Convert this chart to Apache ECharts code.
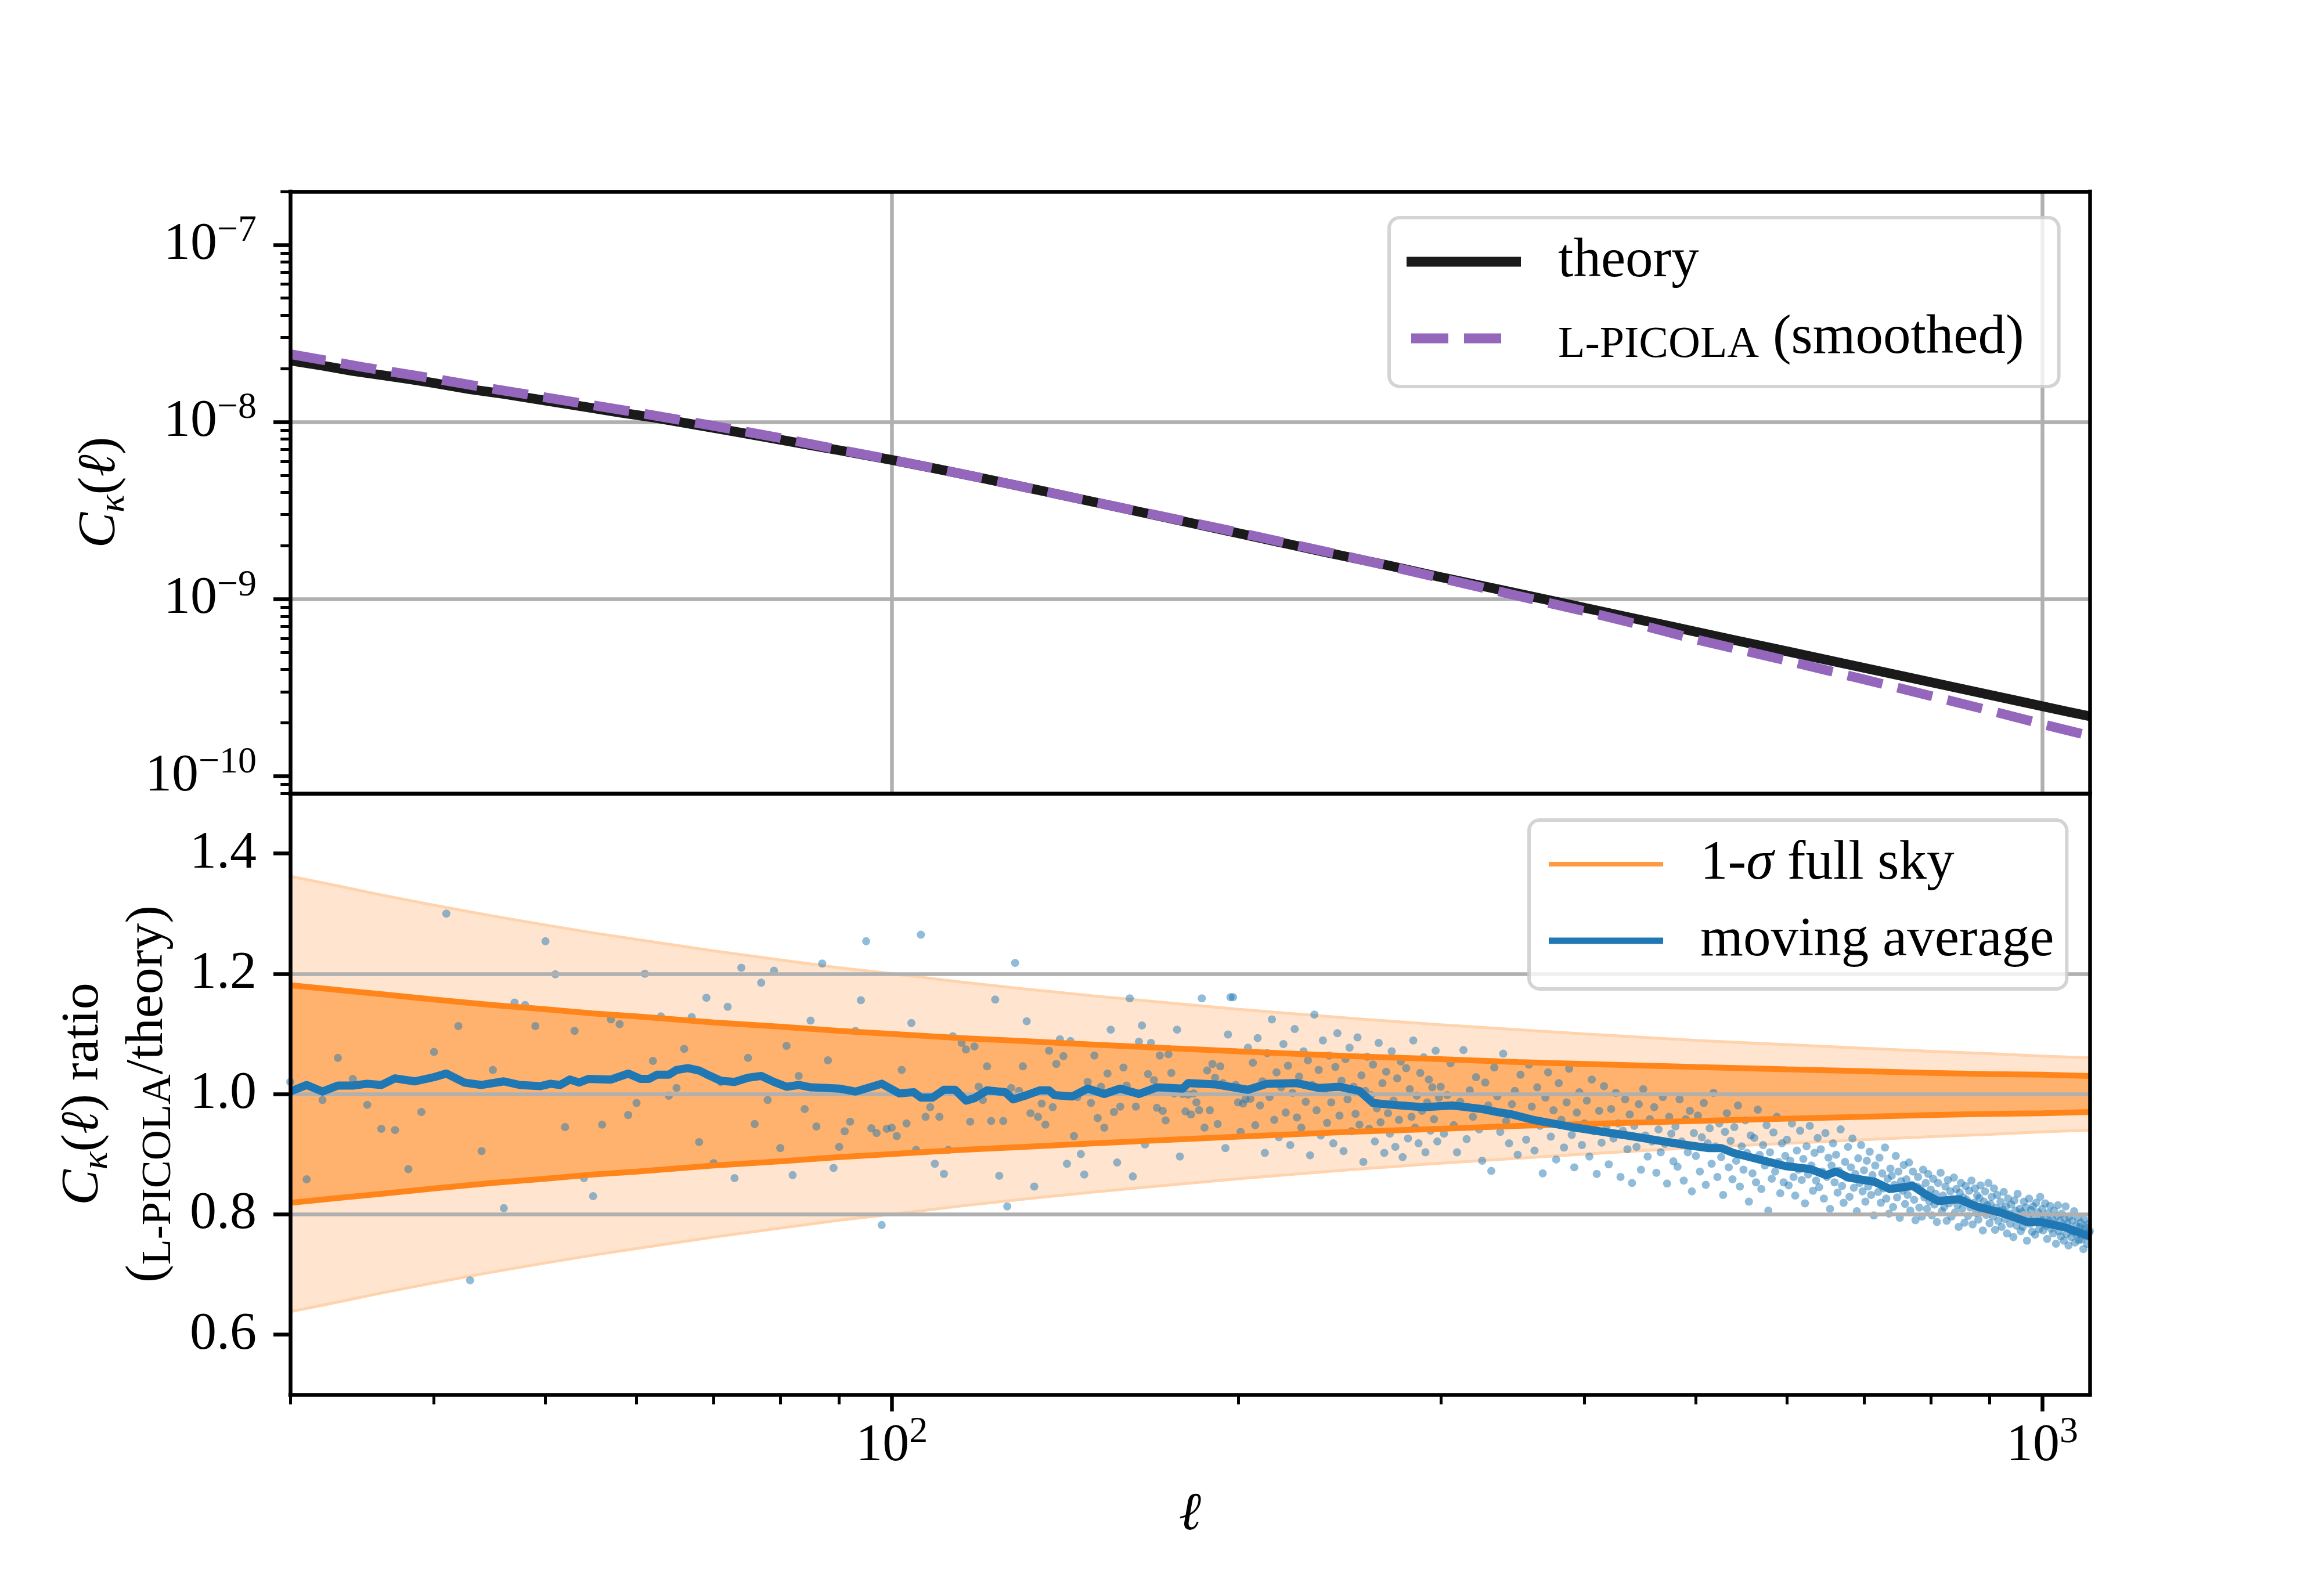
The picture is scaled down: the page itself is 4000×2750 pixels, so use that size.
<!DOCTYPE html>
<html><head><meta charset="utf-8">
<script src="https://cdn.jsdelivr.net/npm/echarts@6.0.0/dist/echarts.min.js"></script>
<style>html,body{margin:0;padding:0;background:#fff}#c{width:4000px;height:2750px}</style>
</head><body><div id="c"></div>
<script>
// ---------------- data ----------------
const theoryEll = [30,32,34,36,38,40,43,46,50,54,58,62,67,72,78,84,90,100,110,120,135,150,170,190,210,240,270,300,340,380,430,480,540,600,680,760,850,950,1050,1100];
const theoryCl = [2.22e-8,2.08e-8,1.94e-8,1.84e-8,1.75e-8,1.66e-8,1.53e-8,1.44e-8,1.32e-8,1.22e-8,1.13e-8,1.06e-8,9.73e-9,8.97e-9,8.18e-9,7.50e-9,6.92e-9,6.10e-9,5.40e-9,4.81e-9,4.09e-9,3.53e-9,2.96e-9,2.53e-9,2.20e-9,1.82e-9,1.55e-9,1.33e-9,1.12e-9,9.59e-10,8.07e-10,6.92e-10,5.87e-10,5.07e-10,4.26e-10,3.65e-10,3.12e-10,2.67e-10,2.32e-10,2.18e-10];
const picolaEll = [30,35,40,45,50,60,70,80,90,100,120,150,200,250,300,350,400,450,500,600,700,800,900,1000,1100];
const picolaCl = [2.415e-8,2.02e-8,1.758e-8,1.538e-8,1.377e-8,1.132e-8,9.51e-9,8.11e-9,6.98e-9,6.12e-9,4.81e-9,3.53e-9,2.38e-9,1.73e-9,1.313e-9,1.044e-9,8.55e-10,7.08e-10,5.92e-10,4.49e-10,3.52e-10,2.84e-10,2.35e-10,1.97e-10,1.69e-10];

const bandEll = [30,33,36,40,45,50,55,60,70,80,90,100,115,130,150,175,200,250,300,350,400,500,600,700,800,900,1000,1100];
const sigUpper1 = [1.181,1.173,1.166,1.157,1.148,1.141,1.134,1.129,1.119,1.112,1.105,1.100,1.093,1.088,1.082,1.076,1.071,1.063,1.058,1.053,1.050,1.045,1.041,1.038,1.035,1.033,1.032,1.030];
const sigLower1 = [0.819,0.827,0.834,0.843,0.852,0.859,0.866,0.871,0.881,0.888,0.895,0.900,0.907,0.912,0.918,0.924,0.929,0.937,0.942,0.947,0.950,0.955,0.959,0.962,0.965,0.967,0.968,0.970];
const sigUpper2 = [1.362,1.346,1.331,1.314,1.296,1.281,1.268,1.257,1.238,1.223,1.210,1.200,1.186,1.175,1.163,1.151,1.141,1.126,1.115,1.107,1.100,1.089,1.082,1.076,1.071,1.067,1.063,1.060];
const sigLower2 = [0.638,0.654,0.669,0.686,0.704,0.719,0.732,0.743,0.762,0.777,0.790,0.800,0.814,0.825,0.837,0.849,0.859,0.874,0.885,0.893,0.900,0.911,0.918,0.924,0.929,0.933,0.937,0.940];

// per-multipole ratio (ell = 30, 31, ... 299)
const ratioLowStart = 30;
const ratioLow = [
1.020,0.858,0.990,1.060,1.025,0.982,0.942,0.940,0.875,0.970,
1.070,1.300,1.113,0.690,0.905,1.040,0.810,1.152,1.148,1.113,
1.254,1.199,0.945,1.105,0.860,0.830,0.949,1.124,1.116,0.965,
0.985,1.200,1.055,1.129,0.997,1.010,1.075,1.128,0.920,1.160,
0.885,1.020,1.145,0.860,1.210,1.060,0.950,1.185,0.990,1.205,
0.910,1.080,0.865,1.030,0.975,1.122,0.946,1.217,1.056,0.877,
0.912,0.938,0.954,1.105,1.156,1.254,0.943,0.935,0.782,0.942,
0.944,0.930,1.040,0.951,1.118,0.907,1.265,0.962,0.978,0.884,
0.962,0.867,0.907,1.096,1.004,1.085,1.074,0.954,1.079,1.012,
0.990,1.046,0.955,1.157,0.864,0.955,0.813,1.010,1.218,1.005,
1.046,1.121,0.968,0.846,0.962,0.984,0.949,1.072,0.978,1.050,
1.091,1.063,0.884,1.088,0.930,0.995,0.900,0.866,1.020,0.985,
1.064,0.960,1.012,0.944,1.034,1.107,0.970,0.886,0.979,1.044,
1.014,1.159,0.863,0.979,1.087,1.114,0.916,1.033,1.085,1.023,
0.977,1.064,0.972,0.956,1.066,1.035,1.001,1.107,0.896,1.000,
0.971,0.999,0.966,1.001,0.986,0.973,1.159,0.944,1.039,0.973,
1.050,1.027,0.950,1.046,1.018,0.910,1.099,1.161,1.161,1.015,
0.986,0.937,0.984,0.991,1.077,0.992,1.052,0.948,1.093,0.981,
1.021,0.902,1.068,0.995,1.124,0.957,1.036,0.928,1.011,1.083,
0.969,1.047,0.915,1.002,1.108,0.961,1.029,0.944,1.071,0.987,
1.056,0.898,1.015,1.132,0.973,1.040,0.931,1.089,1.007,0.952,
1.064,0.986,0.918,1.045,1.101,0.964,1.022,0.905,1.058,0.991,
1.077,0.938,1.012,0.967,1.094,0.949,1.031,0.887,1.005,1.062,
0.942,0.998,1.049,0.921,0.976,1.085,0.953,1.018,0.902,1.037,
0.968,0.934,1.071,0.989,0.912,1.026,0.957,1.054,0.895,0.981,
1.043,0.926,1.008,0.962,1.089,0.944,0.997,0.918,1.035,0.972,
1.061,0.903,0.986,1.024,0.939,1.011,0.958,1.072,0.921,0.994];
// per-multipole ratio (ell = 300, 302, ... 1100)
const ratioHighStart = 300, ratioHighStep = 2;
const ratioHigh = [
1.012,0.934,0.998,1.051,0.948,0.903,0.987,1.073,0.925,1.006,
0.962,1.028,0.941,0.889,1.019,0.981,0.872,1.044,0.996,0.937,
1.067,0.955,0.918,0.983,1.005,0.899,1.032,0.961,0.924,1.049,
0.979,0.906,1.011,0.947,0.868,0.994,1.036,0.929,0.973,0.891,
1.018,0.957,0.911,0.986,1.042,0.932,0.878,0.969,1.003,0.915,
0.951,0.989,0.896,1.024,0.938,0.867,0.972,0.919,1.013,0.944,
0.883,0.975,0.926,1.002,0.951,0.862,0.939,0.991,0.908,0.966,
0.852,0.947,0.912,0.983,0.874,1.008,0.931,0.896,0.958,0.921,
0.978,0.869,0.941,0.903,0.995,0.917,0.851,0.962,0.934,0.888,
0.946,0.879,0.991,0.921,0.856,0.958,0.903,0.972,0.838,0.935,
0.897,0.964,0.871,0.928,0.985,0.849,0.918,0.943,0.884,1.002,
0.913,0.862,0.951,0.895,0.832,0.937,0.968,0.878,0.922,0.858,
0.945,0.889,0.981,0.846,0.913,0.874,0.956,0.902,0.821,0.931,
0.868,0.927,0.853,0.974,0.899,0.842,0.915,0.881,0.948,0.806,
0.903,0.859,0.936,0.871,0.962,0.887,0.835,0.918,0.853,0.897,
0.924,0.848,0.889,0.951,0.862,0.831,0.906,0.874,0.939,0.857,
0.892,0.818,0.913,0.866,0.947,0.881,0.839,0.902,0.856,0.927,
0.845,0.908,0.871,0.826,0.935,0.862,0.894,0.809,0.881,0.918,
0.853,0.899,0.836,0.872,0.941,0.847,0.819,0.887,0.861,0.912,
0.829,0.878,0.926,0.844,0.867,0.805,0.893,0.852,0.915,0.838,
0.873,0.821,0.889,0.846,0.904,0.832,0.865,0.798,0.881,0.852,
0.837,0.894,0.819,0.868,0.843,0.911,0.826,0.859,0.801,0.876,
0.864,0.812,0.849,0.897,0.828,0.871,0.794,0.855,0.839,0.882,
0.817,0.858,0.832,0.886,0.806,0.849,0.871,0.824,0.790,0.846,
0.862,0.811,0.843,0.796,0.874,0.828,0.852,0.809,0.867,0.821,
0.841,0.798,0.859,0.816,0.834,0.787,0.852,0.823,0.869,0.805,
0.831,0.812,0.846,0.789,0.857,0.818,0.838,0.796,0.825,0.861,
0.803,0.842,0.815,0.779,0.836,0.852,0.809,0.828,0.786,0.847,
0.824,0.797,0.839,0.811,0.856,0.783,0.819,0.843,0.802,0.831,
0.791,0.827,0.848,0.806,0.773,0.821,0.838,0.799,0.815,0.852,
0.785,0.817,0.829,0.796,0.843,0.774,0.811,0.832,0.789,0.806,
0.821,0.779,0.808,0.837,0.792,0.813,0.768,0.826,0.801,0.784,
0.816,0.797,0.762,0.823,0.806,0.781,0.834,0.793,0.809,0.772,
0.803,0.779,0.821,0.788,0.811,0.756,0.798,0.826,0.784,0.807,
0.771,0.813,0.794,0.766,0.819,0.787,0.803,0.775,0.829,0.792,
0.809,0.773,0.795,0.818,0.781,0.759,0.802,0.789,0.814,0.776,
0.793,0.768,0.806,0.784,0.751,0.797,0.815,0.772,0.789,0.763,
0.801,0.779,0.756,0.792,0.813,0.767,0.785,0.748,0.796,0.774,
0.762,0.789,0.771,0.805,0.753,0.781,0.766,0.794,0.757,0.779,
0.786,0.758,0.775,0.742,0.791,0.764,0.778,0.751,0.783,0.769,
0.772];

const mavgEll = [30,31,32,33,34,35,36,37,38.5,40,41,42.5,44,46,47.5,49.5,50.5,51.5,52.5,53.5,54.5,57,59,60.5,61.5,62.5,64,65,66.5,68,69,71,73,75,77,79,81,83,85,88,90,93,98,101.5,104.5,106,108.5,111,113.5,116,118,121,125.5,127.5,130.5,134.5,137,138.5,143.5,148,153,158,164,170,179,181,191,204,212,225,235,245,255,262,272,290,307,326,336,346,361,390,439,487,513,526,539,568,598,629,649,662,679,715,737,772,792,812,846,877,923,971,996,1048,1100];
const mavgVal = [1.004,1.015,1.004,1.014,1.014,1.017,1.015,1.026,1.021,1.028,1.034,1.019,1.015,1.021,1.015,1.013,1.017,1.015,1.024,1.019,1.025,1.024,1.034,1.025,1.025,1.032,1.032,1.040,1.043,1.039,1.033,1.022,1.020,1.027,1.030,1.020,1.012,1.015,1.011,1.010,1.009,1.004,1.017,1.001,1.003,0.994,0.994,1.007,1.007,0.989,0.993,1.006,1.003,0.991,0.997,1.006,1.006,0.998,0.996,1.009,1.000,1.009,1.000,1.011,1.009,1.018,1.016,1.007,1.017,1.018,1.010,1.012,1.005,0.985,0.982,0.978,0.981,0.975,0.970,0.966,0.957,0.945,0.930,0.916,0.910,0.910,0.902,0.891,0.880,0.875,0.865,0.871,0.861,0.854,0.842,0.847,0.833,0.822,0.825,0.813,0.802,0.787,0.787,0.778,0.763];

// ticks
const xMajorTicks = [100, 1000];
const xMinorTicks = [30,40,50,60,70,80,90,200,300,400,500,600,700,800,900];
const yTopMajorTicks = [1e-10,1e-9,1e-8,1e-7];
const yTopMinorTicks = [8e-11,9e-11,2e-10,3e-10,4e-10,5e-10,6e-10,7e-10,8e-10,9e-10,2e-9,3e-9,4e-9,5e-9,6e-9,7e-9,8e-9,9e-9,2e-8,3e-8,4e-8,5e-8,6e-8,7e-8,8e-8,9e-8,2e-7];
const yBotTicks = [0.6,0.8,1.0,1.2,1.4];

// ---------------- helpers ----------------
const FONT = 'Liberation Serif';
const FS = 92;
const LFS = 95;
const GRIDC = '#b0b0b0';
const LW = 6.5;
const pairs = (xs, ys) => xs.map((x, i) => [x, ys[i]]);
const supLabel = v => {
  const e = Math.round(Math.log10(v));
  return '{b|10}{s|' + (e < 0 ? '\u2212' + (-e) : String(e)) + '}';
};
const richTick = {
  b: {fontFamily: FONT, fontSize: FS, lineHeight: 111, color: '#000'},
  s: {fontFamily: FONT, fontSize: 64, lineHeight: 64, verticalAlign: 'top', color: '#000'}
};
const spine = (grid, pos) => ({
  gridIndex: grid, type: 'value', min: 0, max: 1, position: pos, z: 3,
  axisLine: {show: true, onZero: false, lineStyle: {color: '#000', width: LW, cap: 'square'}},
  axisTick: {show: false}, axisLabel: {show: false}, splitLine: {show: false}
});
const splitL = {show: true, showMinLine: false, showMaxLine: false, lineStyle: {color: GRIDC, width: LW}};

const scatterData = [];
ratioLow.forEach((v, i) => scatterData.push([ratioLowStart + i, v]));
ratioHigh.forEach((v, i) => scatterData.push([ratioHighStart + ratioHighStep * i, v]));

const LIGHT = '#ffe5cf', DARK = '#ffb26e';
const nameRich = {
  c: {fontFamily: FONT, fontSize: FS, fontStyle: 'italic', lineHeight: 111, color: '#000'},
  k: {fontFamily: FONT, fontSize: 64, fontStyle: 'italic', lineHeight: 64, verticalAlign: 'bottom', color: '#000'},
  n: {fontFamily: FONT, fontSize: FS, lineHeight: 111, color: '#000'},
  l: {fontFamily: FONT, fontSize: FS, fontStyle: 'italic', lineHeight: 111, color: '#000'},
  sc: {fontFamily: FONT, fontSize: 72, lineHeight: 98, verticalAlign: 'bottom', color: '#000'}
};

const legendNames = {
  theory: 'theory',
  picola: '{sc|L-PICOLA} (smoothed)',
  sigma: '1-{i|\u03c3} full sky',
  mavg: 'moving average'
};
const legendText = {
  fontFamily: FONT, fontSize: LFS, color: '#000', lineHeight: 100,
  rich: {
    sc: {fontFamily: FONT, fontSize: 76, lineHeight: 87, verticalAlign: 'bottom', color: '#000'},
    i: {fontFamily: FONT, fontSize: LFS, fontStyle: 'italic', lineHeight: 100, color: '#000'}
  }
};
const ICON_SOLID = 'path://M0,0 M256,17 M0,0h197v17h-197z';
const ICON_DASH = 'path://M0,0 M256,17 M8,0h64v17h-64z M99,0h64v17h-64z';
const ICON_THIN = 'path://M0,0 M256,17 M0,4.5h197v8h-197z';
const ICON_MID = 'path://M0,0 M256,17 M0,3h197v11h-197z';
const legendBase = {
  orient: 'vertical', itemWidth: 256, itemHeight: 17, itemGap: 32,
  backgroundColor: 'rgba(255,255,255,0.8)',
  borderColor: 'rgba(204,204,204,0.85)', borderWidth: 6, borderRadius: 18,
  selectedMode: false, itemStyle: {borderWidth: 0}, textStyle: legendText,
  formatter: n => legendNames[n]
};
const areaSeries = (name, ys, color) => ({
  type: 'line', name: name, xAxisIndex: 3, yAxisIndex: 4, data: pairs(bandEll, ys), symbol: 'none', z: -1,
  lineStyle: {width: 0, opacity: 0}, areaStyle: {color: color, opacity: 1, origin: 'start'}
});

const option = {
  animation: false,
  backgroundColor: '#fff',
  grid: [
    {left: 500, top: 330, width: 3100, height: 1037, outerBoundsMode: 'none'},
    {left: 500, top: 1367, width: 3100, height: 1036, outerBoundsMode: 'none'}
  ],
  legend: [
    Object.assign({}, legendBase, {left: 2393, top: 375, padding: [26, 60, 33, 30], data: [
      {name: 'theory', icon: ICON_SOLID},
      {name: 'picola', icon: ICON_DASH}
    ]}),
    Object.assign({}, legendBase, {left: 2634, top: 1413, padding: [26, 22, 33, 34], data: [
      {name: 'sigma', icon: ICON_THIN, itemStyle: {color: '#ff9a40'}},
      {name: 'mavg', icon: ICON_MID, itemStyle: {color: '#1f77b4'}}
    ]})
  ],
  xAxis: [
    {gridIndex: 0, type: 'log', logBase: 10, min: 30, max: 1100, position: 'bottom',
     axisLine: {show: false, onZero: false}, axisTick: {show: false}, axisLabel: {show: false}, splitLine: splitL},
    spine(0, 'top'), spine(0, 'bottom'),
    {gridIndex: 1, type: 'log', logBase: 10, min: 30, max: 1100, position: 'bottom',
     axisLine: {show: false, onZero: false},
     axisTick: {show: true, customValues: xMajorTicks, length: 29, lineStyle: {color: '#000', width: LW}},
     axisLabel: {show: true, customValues: xMajorTicks, formatter: supLabel, margin: 33, rich: richTick, color: '#000', fontFamily: FONT, fontSize: FS},
     splitLine: splitL,
     name: '{l|\u2113}', nameLocation: 'middle', nameGap: 152,
     nameTextStyle: {rich: nameRich}},
    {gridIndex: 1, type: 'log', logBase: 10, min: 30, max: 1100, position: 'bottom',
     axisLine: {show: false, onZero: false},
     axisTick: {show: true, customValues: xMinorTicks, length: 16.7, lineStyle: {color: '#000', width: 5}},
     axisLabel: {show: false}, splitLine: {show: false}},
    spine(1, 'top'), spine(1, 'bottom')
  ],
  yAxis: [
    {gridIndex: 0, type: 'log', logBase: 10, min: 8e-11, max: 2e-7, position: 'left',
     axisLine: {show: false, onZero: false},
     axisTick: {show: true, customValues: yTopMajorTicks, length: 29, lineStyle: {color: '#000', width: LW}},
     axisLabel: {show: true, customValues: yTopMajorTicks, formatter: supLabel, margin: 58, rich: richTick, color: '#000', fontFamily: FONT, fontSize: FS},
     splitLine: splitL,
     name: '{c|C}{k|\u03ba}{n|(}{l|\u2113}{n|)}', nameLocation: 'middle', nameGap: 272, nameRotate: 90,
     nameTextStyle: {rich: nameRich}},
    {gridIndex: 0, type: 'log', logBase: 10, min: 8e-11, max: 2e-7, position: 'left',
     axisLine: {show: false, onZero: false},
     axisTick: {show: true, customValues: yTopMinorTicks, length: 16.7, lineStyle: {color: '#000', width: 5}},
     axisLabel: {show: false}, splitLine: {show: false}},
    spine(0, 'left'), spine(0, 'right'),
    {gridIndex: 1, type: 'value', min: 0.5, max: 1.5, position: 'left',
     axisLine: {show: false, onZero: false},
     axisTick: {show: true, customValues: yBotTicks, length: 29, lineStyle: {color: '#000', width: LW}},
     axisLabel: {show: true, customValues: yBotTicks, formatter: v => v.toFixed(1), margin: 58, color: '#000', fontFamily: FONT, fontSize: FS},
     splitLine: splitL,
     name: '{c|C}{k|\u03ba}{n|(}{l|\u2113}{n|) ratio}\n{n|(}{sc|L-PICOLA}{n|/theory)}', nameLocation: 'middle', nameGap: 190, nameRotate: 90,
     nameTextStyle: {rich: nameRich, lineHeight: 110}},
    spine(1, 'left'), spine(1, 'right')
  ],
  series: [
    {type: 'line', name: 'theory', xAxisIndex: 0, yAxisIndex: 0, data: pairs(theoryEll, theoryCl), symbol: 'none', z: 2,
     itemStyle: {color: '#1a1a1a'}, lineStyle: {color: '#1a1a1a', width: 16.7, join: 'round'}},
    {type: 'line', name: 'picola', xAxisIndex: 0, yAxisIndex: 0, data: pairs(picolaEll, picolaCl), symbol: 'none', z: 2,
     itemStyle: {color: '#9467bd'}, lineStyle: {color: '#9467bd', width: 16.7, type: [61.7, 26.7]}},
    // bands, painted from the outside in
    areaSeries('a0', sigUpper2, LIGHT),
    areaSeries('a1', sigUpper1, DARK),
    areaSeries('a2', sigLower1, LIGHT),
    areaSeries('a3', sigLower2, '#ffffff'),
    {type: 'line', name: 'e1', xAxisIndex: 3, yAxisIndex: 4, data: pairs(bandEll, sigUpper2), symbol: 'none', z: -1,
     lineStyle: {color: '#ffd3ad', width: 5}},
    {type: 'line', name: 'e2', xAxisIndex: 3, yAxisIndex: 4, data: pairs(bandEll, sigLower2), symbol: 'none', z: -1,
     lineStyle: {color: '#ffd3ad', width: 5}},
    {type: 'scatter', name: 'pts', xAxisIndex: 3, yAxisIndex: 4, data: scatterData, symbol: 'circle', symbolSize: 14, z: -1,
     itemStyle: {color: 'rgba(31,119,180,0.62)'}},
    {type: 'line', name: 'sigma', xAxisIndex: 3, yAxisIndex: 4, data: pairs(bandEll, sigUpper1), symbol: 'none', z: 2,
     itemStyle: {color: '#ff851b'}, lineStyle: {color: '#ff851b', width: 10}},
    {type: 'line', name: 'sigma', xAxisIndex: 3, yAxisIndex: 4, data: pairs(bandEll, sigLower1), symbol: 'none', z: 2,
     itemStyle: {color: '#ff851b'}, lineStyle: {color: '#ff851b', width: 10}},
    {type: 'line', name: 'mavg', xAxisIndex: 3, yAxisIndex: 4, data: pairs(mavgEll, mavgVal), symbol: 'none', z: 2,
     itemStyle: {color: '#1f77b4'}, lineStyle: {color: '#1f77b4', width: 14, join: 'round'}}
  ]
};
const chart = echarts.init(document.getElementById('c'), null, {renderer: 'canvas', width: 4000, height: 2750});
chart.setOption(option);
</script>
</body></html>
